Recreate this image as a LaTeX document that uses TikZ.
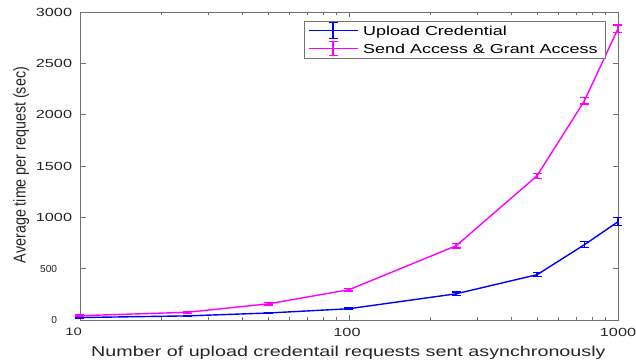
\documentclass[tikz,border=0pt]{standalone}
\usepackage{fontspec}
\setmainfont{Liberation Sans}[FakeStretch=1.38]
\newfontfamily\plainsans{Liberation Sans}
\usetikzlibrary{positioning, calc}
\definecolor{upblue}{RGB}{0,0,255}
\definecolor{sendmag}{RGB}{255,0,255}
\definecolor{axgray}{gray}{0.45}

\begin{document}
\begin{tikzpicture}[x=1pt,y=1pt,
    axisline/.style={draw=axgray,line width=0.7pt},
    ticklab/.style={font=\fontsize{11.8}{13}\selectfont,inner sep=0pt,text=black!85},
    smalllab/.style={font=\plainsans\fontsize{10.2}{12}\selectfont,inner sep=0pt,text=black!85},
    curve/.style={line width=1.4pt,line join=round},
    errbar/.style={line width=1.2pt}]
  \useasboundingbox (0,0) rectangle (636,362);
  \begin{scope}[shift={(80,42)},x=269pt,y=0.10267pt]
    \draw[axisline] (0,0) rectangle (2,3000);
    \foreach \v in {500,1000,...,3000}{
      \draw[axisline] (0,\v) -- ++(5.5pt,0) (2,\v) -- ++(-5.5pt,0);}
    \foreach \d in {1,10}{
      \foreach \k in {2,...,9}{
        \draw[axisline] ({log10(\k*\d)},0) -- ++(0,3.5pt) ({log10(\k*\d)},3000) -- ++(0,-3.5pt);}}
    \draw[axisline] (1,0) -- ++(0,5.5pt) (1,3000) -- ++(0,-5.5pt);
    \foreach \v in {1000,1500,...,3000}
      \node[ticklab,anchor=east,xshift=-7.7pt] (ylab\v) at (0,\v) {\v};
    \node[smalllab,anchor=east,xshift=-22.7pt] (ylab500) at (0,500) {500};
    \node[smalllab,anchor=east,xshift=-22.7pt] (ylab0) at (0,0) {0};
    \node[smalllab,font=\fontsize{10.8}{12}\selectfont,anchor=north,xshift=-6.3pt,yshift=-8pt] (xlab10) at (0,0) {10};
    \node[ticklab,anchor=north,xshift=-2pt,yshift=-7.7pt] (xlab100) at (1,0) {100};
    \node[ticklab,anchor=north,yshift=-7.7pt] (xlab1000) at (2,0) {1000};
    % upload credential
    \foreach \n/\m/\e [count=\i] in {10/24/6,25/40/6,50/68/7,100/110/8,250/255/17,500/441/20,750/733/29,1000/957/38}{
      \coordinate (u\i) at ({log10(\n)-1},\m);
      \coordinate (ut\i) at ({log10(\n)-1},\m+\e);
      \coordinate (ub\i) at ({log10(\n)-1},\m-\e);}
    % send access & grant access
    \foreach \n/\m/\e [count=\i] in {10/42/7,25/75/8,50/157/10,100/295/13,250/722/21,500/1404/24,750/2134/31,1000/2837/36}{
      \coordinate (s\i) at ({log10(\n)-1},\m);
      \coordinate (st\i) at ({log10(\n)-1},\m+\e);
      \coordinate (sb\i) at ({log10(\n)-1},\m-\e);}
    \draw[curve,upblue] (u1) \foreach \i in {2,...,8}{-- (u\i)};
    \foreach \i in {1,...,8}
      \draw[errbar,upblue] (ut\i) -- (ub\i) ([xshift=-4.5pt]ut\i) -- ([xshift=4.5pt]ut\i)
        ([xshift=-4.5pt]ub\i) -- ([xshift=4.5pt]ub\i);
    \draw[curve,sendmag] (s1) \foreach \i in {2,...,8}{-- (s\i)};
    \foreach \i in {1,...,8}
      \draw[errbar,sendmag] (st\i) -- (sb\i) ([xshift=-4.5pt]st\i) -- ([xshift=4.5pt]st\i)
        ([xshift=-4.5pt]sb\i) -- ([xshift=4.5pt]sb\i);
  \end{scope}
  % legend
  \node[draw=axgray,line width=0.7pt,fill=white,anchor=north west,inner sep=0pt,
        minimum width=301pt,minimum height=37.6pt] (legend) at (304,341.3) {};
  \coordinate (lu) at (309,331.3);
  \coordinate (ls) at (309,313.7);
  \draw[curve,upblue] (lu) -- ++(49,0);
  \draw[errbar,upblue] ([xshift=24pt,yshift=7.8pt]lu) -- ([xshift=24pt,yshift=-7.8pt]lu)
    ([xshift=19.5pt,yshift=7.8pt]lu) -- ([xshift=28.5pt,yshift=7.8pt]lu)
    ([xshift=19.5pt,yshift=-7.8pt]lu) -- ([xshift=28.5pt,yshift=-7.8pt]lu);
  \draw[curve,sendmag] (ls) -- ++(49,0);
  \draw[errbar,sendmag] ([xshift=24pt,yshift=7pt]ls) -- ([xshift=24pt,yshift=-7pt]ls)
    ([xshift=19.5pt,yshift=7pt]ls) -- ([xshift=28.5pt,yshift=7pt]ls)
    ([xshift=19.5pt,yshift=-7pt]ls) -- ([xshift=28.5pt,yshift=-7pt]ls);
  \node[font=\fontsize{13}{15}\selectfont,anchor=base west,inner sep=0pt] (legup) at (363,326.3) {Upload Credential};
  \node[font=\fontsize{13}{15}\selectfont,anchor=base west,inner sep=0pt] (legsend) at (363,308) {Send Access \& Grant Access};
  % axis titles
  \node[font=\fontsize{14.3}{16}\selectfont,anchor=base,inner sep=0pt,text=black!85] (xtitle) at (348.4,6)
    {Number of upload credentail requests sent asynchronously};
  \node[font=\plainsans\fontsize{14.3}{16}\selectfont,rotate=90,anchor=base,inner sep=0pt,text=black!85] (ytitle) at (25.5,197)
    {\scalebox{1}[1.2]{Average time per request (sec)}};
\end{tikzpicture}
\end{document}
